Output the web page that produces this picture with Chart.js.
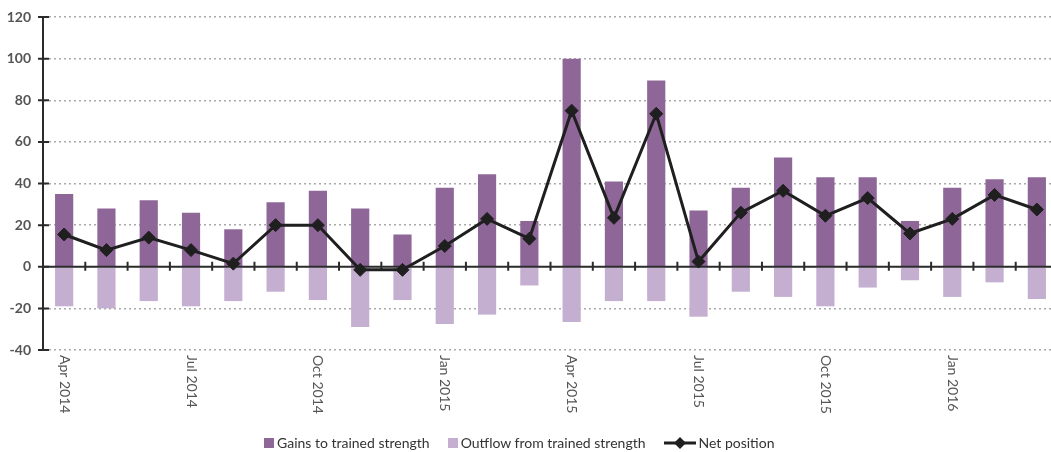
<!DOCTYPE html>
<html>
<head>
<meta charset="utf-8">
<script src="https://cdn.jsdelivr.net/npm/chart.js@4.4.0/dist/chart.umd.min.js"></script>
<style>
  html, body { margin: 0; padding: 0; background: #fff; overflow: hidden; }
  #wrap { position: relative; width: 1051px; height: 452px; overflow: hidden; }
  #chart { position: absolute; left: 0; top: 0; }
  #legend { position: absolute; left: 264px; top: 434px; display: flex; align-items: center;
    font: 14px Lato, sans-serif; color: #333; white-space: nowrap; }
  #legend .box { display: inline-block; width: 10px; height: 10px; margin-right: 3px; }
  #legend .item { display: flex; align-items: center; margin-right: 18px; }
  #legend svg { margin-right: 3px; }
</style>
</head>
<body>
<div id="wrap">
  <canvas id="chart" width="1058" height="452"></canvas>
  <div id="legend">
    <span class="item"><span class="box" style="background:#8e6798"></span>Gains to trained strength</span>
    <span class="item"><span class="box" style="background:#c4afd0"></span>Outflow from trained strength</span>
    <span class="item"><svg width="32" height="14"><line x1="0" y1="7" x2="32" y2="7" stroke="#1f1f1f" stroke-width="3"/><polygon points="16,1 22,7 16,13 10,7" fill="#1f1f1f"/></svg>Net position</span>
  </div>
</div>
<script>
// monthly, Apr 2014 - Mar 2016
const months = [
  "Apr 2014", "May 2014", "Jun 2014", "Jul 2014", "Aug 2014", "Sep 2014",
  "Oct 2014", "Nov 2014", "Dec 2014", "Jan 2015", "Feb 2015", "Mar 2015",
  "Apr 2015", "May 2015", "Jun 2015", "Jul 2015", "Aug 2015", "Sep 2015",
  "Oct 2015", "Nov 2015", "Dec 2015", "Jan 2016", "Feb 2016", "Mar 2016"
];
const gains = [35, 28, 32, 26, 18, 31, 36.5, 28, 15.5, 38, 44.5, 22, 100, 41, 89.5, 27, 38, 52.5, 43, 43, 22, 38, 42, 43];
const outflow = [-19, -20, -16.5, -19, -16.5, -12, -16, -29, -16, -27.5, -23, -9, -26.5, -16.5, -16.5, -24, -12, -14.5, -19, -10, -6.5, -14.5, -7.5, -15.5];
const net = [15.5, 8, 14, 8, 1.5, 20, 20, -1.5, -1.5, 10, 23, 13.5, 75, 23.5, 73.5, 2.5, 26, 36.5, 24.5, 33, 16, 23, 34.5, 27.5];
const yTicks = [-40, -20, 0, 20, 40, 60, 80, 100, 120];

Chart.defaults.font.family = "Lato";

// zero axis with tick marks, rotated month labels, y tick marks
const axisMarks = {
  id: "axisMarks",
  beforeDatasetDraw(chart, args) {
    if (args.meta.type !== "line") return;
    const { ctx, chartArea, scales: { x, y } } = chart;
    const y0 = y.getPixelForValue(0);
    ctx.save();
    ctx.strokeStyle = "#2b2b2b";
    ctx.lineWidth = 2;
    ctx.beginPath();
    ctx.moveTo(chartArea.left, y0);
    ctx.lineTo(chartArea.right, y0);
    for (let i = 1; i < months.length; i++) {
      const bx = (x.getPixelForValue(i - 1) + x.getPixelForValue(i)) / 2;
      ctx.moveTo(bx, y0 - 5);
      ctx.lineTo(bx, y0 + 4);
    }
    ctx.stroke();
    ctx.restore();
  },
  afterDraw(chart) {
    const { ctx, chartArea, scales: { x, y } } = chart;
    ctx.save();
    ctx.strokeStyle = "#2b2b2b";
    ctx.lineWidth = 2;
    ctx.beginPath();
    yTicks.forEach(v => {
      const py = y.getPixelForValue(v);
      ctx.moveTo(chartArea.left - 5, py);
      ctx.lineTo(chartArea.left + 6, py);
    });
    ctx.stroke();

    ctx.fillStyle = "#555";
    ctx.font = "14px Lato";
    ctx.textAlign = "left";
    ctx.textBaseline = "middle";
    months.forEach((m, i) => {
      if (i % 3 !== 0) return;
      ctx.save();
      ctx.translate(x.getPixelForValue(i), chartArea.bottom + 5);
      ctx.rotate(Math.PI / 2);
      ctx.fillText(m, 0, 0);
      ctx.restore();
    });
    ctx.restore();
  }
};

new Chart(document.getElementById("chart"), {
  type: "bar",
  data: {
    labels: months,
    datasets: [
      {
        type: "line",
        label: "Net position",
        data: net,
        borderColor: "#1f1f1f",
        borderWidth: 3,
        tension: 0,
        pointStyle: "rectRot",
        pointRadius: 6.5,
        pointBackgroundColor: "#1f1f1f",
        pointBorderColor: "#1f1f1f",
        pointBorderWidth: 1,
        order: 1
      },
      {
        label: "Gains to trained strength",
        data: gains,
        backgroundColor: "#8e6798",
        barPercentage: 0.43,
        categoryPercentage: 1,
        order: 2
      },
      {
        label: "Outflow from trained strength",
        data: outflow,
        backgroundColor: "#c4afd0",
        barPercentage: 0.43,
        categoryPercentage: 1,
        order: 3
      }
    ]
  },
  options: {
    responsive: false,
    animation: false,
    devicePixelRatio: 1,
    layout: { autoPadding: false, padding: { top: 17, right: 0, bottom: 0, left: 0 } },
    plugins: {
      legend: { display: false },
      tooltip: { enabled: false }
    },
    scales: {
      x: {
        stacked: true,
        ticks: { display: false },
        grid: { display: false },
        border: { display: false },
        afterFit(s) { s.height = 102; }
      },
      y: {
        min: -40,
        max: 120,
        ticks: {
          stepSize: 20,
          color: "#555",
          padding: 12,
          font: { size: 14, weight: "bold" }
        },
        grid: {
          drawTicks: false,
          lineWidth: 1.5,
          color: c => (c.tick && c.tick.value === 0 ? "rgba(0,0,0,0)" : "#aaaaaa")
        },
        border: { display: true, color: "#2b2b2b", width: 2, dash: [2, 3] },
        afterFit(s) { s.width = 43; s.paddingTop = 0; s.paddingBottom = 0; }
      }
    }
  },
  plugins: [axisMarks]
});
</script>
</body>
</html>
